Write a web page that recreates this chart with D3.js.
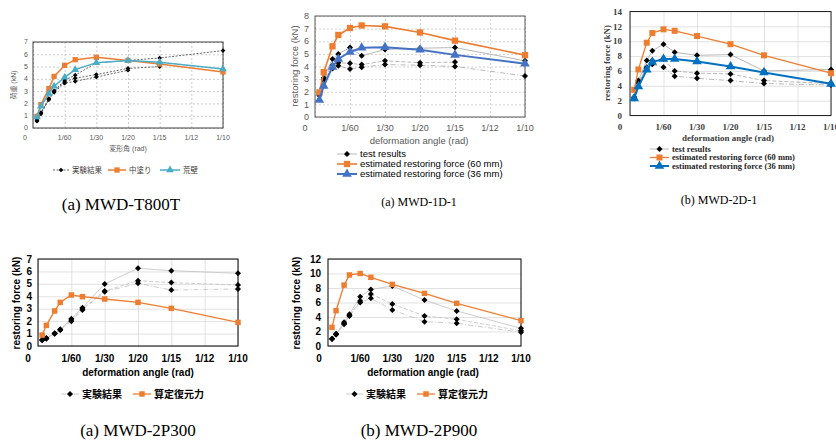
<!DOCTYPE html>
<html>
<head>
<meta charset="utf-8">
<script src="https://cdn.jsdelivr.net/npm/d3@7"></script>
<style>
  body { margin: 0; background: #fff; }
</style>
</head>
<body>
<svg width="836" height="440"></svg>
<script>
// loading steps (rad) shared by all panels
var angles = [1/480, 1/240, 1/120, 1/90, 1/60, 1/45, 1/30, 1/20, 1/15, 1/10];
var angleTicks = [0, 1/60, 1/30, 1/20, 1/15, 1/12, 1/10];
var angleLabels = ["0", "1/60", "1/30", "1/20", "1/15", "1/12", "1/10"];

// (a) MWD-T800T
var t800tTest = [
  [0.65, 1.25, 2.4, 3.0, 3.9, 4.3, 5.3, 5.5, 5.7, 6.3],
  [0.6, 1.2, 2.35, 3.0, 3.75, 4.05, 4.35, 4.85, 5.0],
  [0.55, 1.15, 2.3, 2.9, 3.65, 3.8, 4.15, 4.7]
];
var t800tNaka = [0.95, 1.9, 3.2, 4.2, 5.1, 5.56, 5.75, 5.5, 5.2, 4.56];
var t800tAra = [0.9, 1.76, 2.8, 3.4, 4.12, 4.75, 5.32, 5.5, 5.35, 4.8];

// (a) MWD-1D-1
var d1Test = [
  [1.9, 3.1, 4.6, 5.0, 5.5, 4.85, 5.35, 5.45, 5.5, 4.45],
  [1.8, 3.0, 4.1, 4.3, 4.25, 4.15, 4.45, 4.3, 4.35],
  [1.7, 2.9, 3.85, 4.05, 3.8, 3.95, 4.15, 4.1, 4.0, 3.25]
];
var d1Est60 = [1.95, 3.55, 5.6, 6.5, 7.05, 7.25, 7.18, 6.7, 6.05, 4.9];
var d1Est36 = [1.35, 2.45, 3.97, 4.6, 5.15, 5.48, 5.52, 5.32, 4.92, 4.22];

// (b) MWD-2D-1
var d2Test = [
  [2.5, 4.7, 7.4, 8.7, 9.6, 8.5, 8.1, 8.2, 6.0, 6.2],
  [2.4, 4.5, 6.5, 7.4, 7.6, 6.0, 5.7, 5.6, 4.7, 4.3],
  [2.3, 4.4, 6.3, 6.9, 6.5, 5.3, 5.0, 4.7, 4.3, 4.1]
];
var d2Est60 = [3.45, 6.2, 9.8, 11.1, 11.6, 11.4, 10.7, 9.6, 8.1, 5.7];
var d2Est36 = [2.3, 3.9, 6.15, 7.2, 7.6, 7.6, 7.27, 6.6, 5.8, 4.26];

// (a) MWD-2P300
var p300Test = [
  [0.5, 0.65, 1.02, 1.34, 2.2, 3.08, 4.99, 6.25, 6.06, 5.85],
  [0.48, 0.6, 1.0, 1.3, 2.1, 2.98, 4.42, 5.26, 5.1, 4.9],
  [0.47, 0.58, 0.98, 1.29, 2.0, 2.9, 4.37, 5.04, 4.5, 4.59]
];
var p300Est = [0.88, 1.66, 2.82, 3.51, 4.1, 3.97, 3.78, 3.51, 3.03, 1.9];

// (b) MWD-2P900
var p900Test = [
  [1.0, 1.7, 3.26, 4.37, 6.8, 7.8, 8.28, 6.34, 4.83, 2.44],
  [1.0, 1.6, 3.1, 4.2, 6.2, 7.17, 5.8, 4.14, 3.68, 2.1],
  [0.95, 1.6, 3.0, 4.14, 6.0, 6.57, 4.97, 3.36, 3.13, 1.9]
];
var p900Est = [2.57, 4.87, 8.4, 9.8, 10.0, 9.47, 8.5, 7.26, 5.89, 3.5];

var ORANGE = "#ED7D31";
var SANS = "'Liberation Sans', Arial, sans-serif";
var SERIF = "'Liberation Serif', 'Times New Roman', serif";
var CJK = "'Liberation Sans', 'Noto Sans CJK JP', sans-serif";

var svg = d3.select("svg");
var testDash = ["none", "4,2", "5,2,1,2"];

var panels = [
  {
    box: [33, 223, 42, 128], yMax: 7, yStep: 1,
    tickFont: SANS, tickSize: 7, tickColor: "#595959", tickWeight: "normal",
    grid: "#bfbfbf", gridDash: "2,2", frame: "#404040", vGrid: true,
    xLabelY: 138, yLabelX: 28, zeroDx: -8,
    xTitle: "変形角 (rad)", xTitleY: 149, xTitleX: 128, titleSize: 7, titleFont: CJK, titleColor: "#595959", titleWeight: "normal",
    yTitle: "荷重 (kN)", yTitleX: 14, yTitleY: 85,
    series: [
      {kind: "test", data: t800tTest, color: "#404040", dash: ["2,1.5", "2,1.5", "2,1.5"], size: 11},
      {kind: "sq", data: t800tNaka, color: ORANGE, width: 1.5, size: 28},
      {kind: "tri", data: t800tAra, color: "#4BACC6", width: 1.5, size: 26}
    ],
    legend: {font: CJK, size: 7.5, color: "#404040", weight: "normal", items: [
      {kind: "test", label: "実験結果", x0: 53, x1: 69, y: 170},
      {kind: "sq", label: "中塗り", x0: 108, x1: 126, y: 170},
      {kind: "tri", label: "荒壁", x0: 160, x1: 180, y: 170}
    ]},
    caption: "(a) MWD-T800T", capX: 121, capY: 204, capSize: 17
  },
  {
    box: [315, 525, 16, 117], yMax: 8, yStep: 1,
    tickFont: SANS, tickSize: 9, tickColor: "#595959", tickWeight: "normal",
    grid: "#c8c8c8", gridDash: "2,2", frame: "#595959", vGrid: true,
    xLabelY: 128, yLabelX: 309, zeroDx: -10,
    xTitle: "deformation angle (rad)", xTitleY: 141, xTitleX: 419, titleSize: 9.5, titleFont: SANS, titleColor: "#595959", titleWeight: "normal",
    yTitle: "restoring force (kN)", yTitleX: 295, yTitleY: 66,
    series: [
      {kind: "test", data: d1Test, color: "#a6a6a6", dash: testDash, size: 18},
      {kind: "sq", data: d1Est60, color: ORANGE, width: 1.6, size: 40},
      {kind: "tri", data: d1Est36, color: "#4472C4", width: 2, size: 40}
    ],
    legend: {font: SANS, size: 9.5, color: "#000", weight: "normal", items: [
      {kind: "test", label: "test results", x0: 337, x1: 357, y: 154},
      {kind: "sq", label: "estimated restoring force (60 mm)", x0: 337, x1: 357, y: 164},
      {kind: "tri", label: "estimated restoring force (36 mm)", x0: 337, x1: 357, y: 174}
    ]},
    caption: "(a) MWD-1D-1", capX: 419, capY: 202, capSize: 12
  },
  {
    box: [630, 831, 11.5, 115.5], yMax: 14, yStep: 2,
    tickFont: SERIF, tickSize: 9, tickColor: "#404040", tickWeight: "bold",
    grid: "#d9d9d9", gridDash: null, frame: "#262626", vGrid: true,
    xLabelY: 127, yLabelX: 622, zeroDx: -10,
    xTitle: "deformation angle (rad)", xTitleY: 138, xTitleX: 728, titleSize: 9, titleFont: SERIF, titleColor: "#404040", titleWeight: "bold",
    yTitle: "restoring force (kN)", yTitleX: 607, yTitleY: 63,
    series: [
      {kind: "test", data: d2Test, color: "#a6a6a6", dash: testDash, size: 18},
      {kind: "sq", data: d2Est60, color: ORANGE, width: 1.3, size: 36},
      {kind: "tri", data: d2Est36, color: "#0070C0", width: 2, size: 40}
    ],
    legend: {font: SERIF, size: 8.5, color: "#262626", weight: "bold", items: [
      {kind: "test", label: "test results", x0: 650, x1: 669, y: 149},
      {kind: "sq", label: "estimated restoring force (60 mm)", x0: 650, x1: 669, y: 157.5},
      {kind: "tri", label: "estimated restoring force (36 mm)", x0: 650, x1: 669, y: 166}
    ]},
    caption: "(b) MWD-2D-1", capX: 719, capY: 200, capSize: 12
  },
  {
    box: [38, 238, 259, 346], yMax: 7, yStep: 1,
    tickFont: SANS, tickSize: 10, tickColor: "#000", tickWeight: "bold",
    grid: "#d9d9d9", gridDash: null, frame: "#000", vGrid: true,
    xLabelY: 358, yLabelX: 32, zeroDx: -10,
    xTitle: "deformation angle (rad)", xTitleY: 372, xTitleX: 138, titleSize: 10, titleFont: SANS, titleColor: "#000", titleWeight: "bold",
    yTitle: "restoring force (kN)", yTitleX: 16, yTitleY: 303,
    series: [
      {kind: "test", data: p300Test, color: "#bfbfbf", dash: testDash, size: 18},
      {kind: "sq", data: p300Est, color: ORANGE, width: 1.3, size: 30}
    ],
    legend: {font: CJK, size: 10, color: "#000", weight: "bold", items: [
      {kind: "test", label: "実験結果", x0: 61, x1: 79, y: 394},
      {kind: "sq", label: "算定復元力", x0: 133, x1: 151, y: 394}
    ]},
    caption: "(a) MWD-2P300", capX: 138, capY: 430, capSize: 17
  },
  {
    box: [328, 521, 259, 346], yMax: 12, yStep: 2,
    tickFont: SANS, tickSize: 10, tickColor: "#000", tickWeight: "bold",
    grid: "#d9d9d9", gridDash: null, frame: "#000", vGrid: false,
    xLabelY: 358, yLabelX: 321, zeroDx: -9,
    xTitle: "deformation angle (rad)", xTitleY: 372, xTitleX: 423, titleSize: 10, titleFont: SANS, titleColor: "#000", titleWeight: "bold",
    yTitle: "restoring force (kN)", yTitleX: 296, yTitleY: 303,
    series: [
      {kind: "test", data: p900Test, color: "#bfbfbf", dash: testDash, size: 18},
      {kind: "sq", data: p900Est, color: ORANGE, width: 1.3, size: 30}
    ],
    legend: {font: CJK, size: 10, color: "#000", weight: "bold", items: [
      {kind: "test", label: "実験結果", x0: 346, x1: 363, y: 394},
      {kind: "sq", label: "算定復元力", x0: 417, x1: 435, y: 394}
    ]},
    caption: "(b) MWD-2P900", capX: 419, capY: 430, capSize: 17
  }
];

panels.forEach(drawPanel);

// test results use a square turned 45 degrees (Excel-style diamond)
function symbolFor(kind, size) {
  var t = kind === "tri" ? d3.symbolTriangle : d3.symbolSquare;
  return d3.symbol().type(t).size(size)();
}
function markerAt(kind, px, py) {
  return "translate(" + px + "," + py + ")" + (kind === "test" ? " rotate(45)" : "");
}

function drawPanel(p) {
  var left = p.box[0], right = p.box[1], top = p.box[2], bottom = p.box[3];
  var x = d3.scaleLinear().domain([0, 0.1]).range([left, right]);
  var y = d3.scaleLinear().domain([0, p.yMax]).range([bottom, top]);
  var yTicks = d3.range(0, p.yMax + 0.001, p.yStep);
  var g = svg.append("g");

  // gridlines
  g.append("g")
    .attr("transform", "translate(" + left + ",0)")
    .call(d3.axisLeft(y).tickValues(yTicks).tickSize(-(right - left)).tickFormat(""))
    .call(function(a) {
      a.select(".domain").remove();
      a.selectAll("line").attr("stroke", p.grid).attr("stroke-width", 0.8).attr("stroke-dasharray", p.gridDash);
    });
  if (p.vGrid) {
    g.append("g")
      .attr("transform", "translate(0," + bottom + ")")
      .call(d3.axisBottom(x).tickValues(angleTicks).tickSize(-(bottom - top)).tickFormat(""))
      .call(function(a) {
        a.select(".domain").remove();
        a.selectAll("line").attr("stroke", p.grid).attr("stroke-width", 0.8).attr("stroke-dasharray", p.gridDash);
      });
  }

  g.append("rect")
    .attr("x", left).attr("y", top)
    .attr("width", right - left).attr("height", bottom - top)
    .attr("fill", "none").attr("stroke", p.frame).attr("stroke-width", 1);

  // tick labels
  g.selectAll(".ylab").data(yTicks).enter().append("text")
    .attr("x", p.yLabelX).attr("y", function(d) { return y(d); })
    .attr("dy", "0.35em").attr("text-anchor", "end")
    .attr("font-family", p.tickFont).attr("font-size", p.tickSize)
    .attr("font-weight", p.tickWeight).attr("fill", p.tickColor)
    .text(function(d) { return d; });

  g.selectAll(".xlab").data(angleTicks).enter().append("text")
    .attr("x", function(d, i) { return x(d) + (i === 0 ? p.zeroDx : 0); })
    .attr("y", p.xLabelY).attr("dy", "0.35em").attr("text-anchor", "middle")
    .attr("font-family", p.tickFont).attr("font-size", p.tickSize)
    .attr("font-weight", p.tickWeight).attr("fill", p.tickColor)
    .text(function(d, i) { return angleLabels[i]; });

  // axis titles
  g.append("text")
    .attr("x", p.xTitleX).attr("y", p.xTitleY).attr("dy", "0.35em").attr("text-anchor", "middle")
    .attr("font-family", p.titleFont).attr("font-size", p.titleSize)
    .attr("font-weight", p.titleWeight).attr("fill", p.titleColor)
    .text(p.xTitle);
  g.append("text")
    .attr("transform", "translate(" + p.yTitleX + "," + p.yTitleY + ") rotate(-90)")
    .attr("dy", "0.35em").attr("text-anchor", "middle")
    .attr("font-family", p.titleFont).attr("font-size", p.titleSize)
    .attr("font-weight", p.titleWeight).attr("fill", p.titleColor)
    .text(p.yTitle);

  var line = d3.line()
    .x(function(d, i) { return x(angles[i]); })
    .y(function(d) { return y(d); });

  p.series.forEach(function(s) {
    var sets = s.kind === "test" ? s.data : [s.data];
    sets.forEach(function(vals, k) {
      g.append("path").datum(vals)
        .attr("d", line).attr("fill", "none")
        .attr("stroke", s.color)
        .attr("stroke-width", s.kind === "test" ? 0.8 : s.width)
        .attr("stroke-dasharray", s.kind === "test" ? s.dash[k] : null);
    });
    sets.forEach(function(vals) {
      g.selectAll(null).data(vals).enter().append("path")
        .attr("transform", function(d, i) { return markerAt(s.kind, x(angles[i]), y(d)); })
        .attr("d", symbolFor(s.kind, s.size))
        .attr("fill", s.kind === "test" ? "#000" : s.color);
    });
  });

  // legend
  var lg = p.legend;
  lg.items.forEach(function(it) {
    var s = p.series.filter(function(q) { return q.kind === it.kind; })[0];
    g.append("line")
      .attr("x1", it.x0).attr("x2", it.x1).attr("y1", it.y).attr("y2", it.y)
      .attr("stroke", s.color)
      .attr("stroke-width", it.kind === "test" ? 0.8 : s.width)
      .attr("stroke-dasharray", it.kind === "test" ? s.dash[0] : null);
    g.append("path")
      .attr("transform", markerAt(it.kind, (it.x0 + it.x1) / 2, it.y))
      .attr("d", symbolFor(it.kind, s.size))
      .attr("fill", it.kind === "test" ? "#000" : s.color);
    g.append("text")
      .attr("x", it.x1 + 3).attr("y", it.y).attr("dy", "0.35em")
      .attr("font-family", lg.font).attr("font-size", lg.size)
      .attr("font-weight", lg.weight).attr("fill", lg.color)
      .text(it.label);
  });

  g.append("text")
    .attr("x", p.capX).attr("y", p.capY).attr("dy", "0.35em").attr("text-anchor", "middle")
    .attr("font-family", SERIF).attr("font-size", p.capSize).attr("fill", "#000")
    .text(p.caption);
}
</script>
</body>
</html>
